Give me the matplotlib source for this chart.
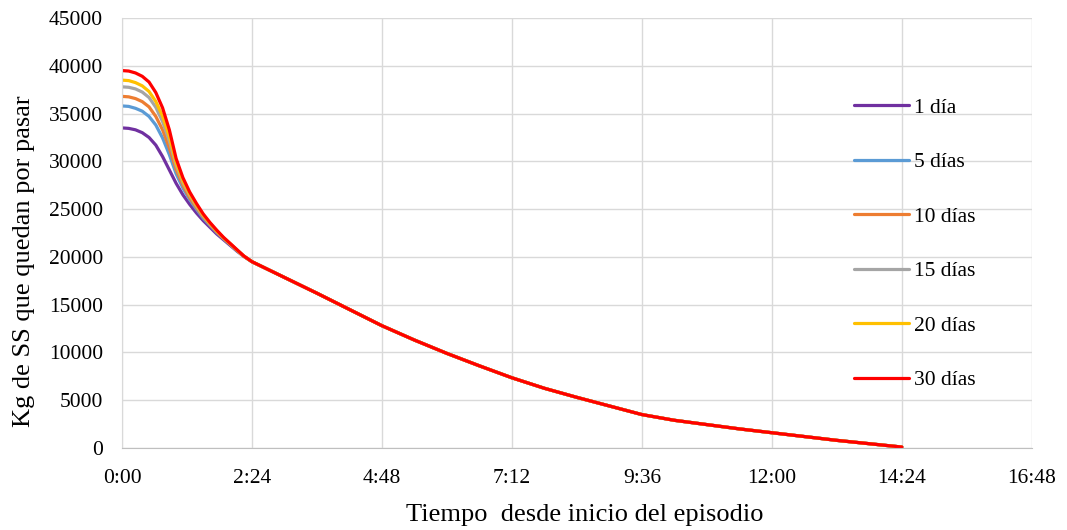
import matplotlib
matplotlib.use("Agg")
import matplotlib.pyplot as plt
from matplotlib.ticker import FuncFormatter

plt.rcParams['font.family'] = ['Liberation Serif', 'DejaVu Serif']

# time in hours since the start of the episode
t_early = [0, 0.125, 0.25, 0.375, 0.5, 0.625, 0.75, 0.875, 1.0, 1.125,
           1.25, 1.375, 1.5, 1.625, 1.75, 1.875, 2.0, 2.125, 2.25]
t_tail = [2.4, 3.0, 3.6, 4.2, 4.8, 5.4, 6.0, 6.6, 7.2, 7.8, 8.4, 9.0, 9.6,
          10.2, 10.8, 11.4, 12.0, 12.6, 13.2, 13.8, 14.4]
# common tail (all series collapse on the same curve after ~2:24)
kg_tail = [19500, 17850, 16200, 14500, 12800, 11300, 9900, 8600, 7350, 6250,
           5300, 4400, 3500, 2900, 2450, 2000, 1600, 1200, 800, 450, 100]

kg_1 = [33500, 33450, 33300, 33000, 32500, 31700, 30500, 29100, 27700, 26500,
        25500, 24600, 23800, 23100, 22400, 21800, 21200, 20600, 20050]
kg_5 = [35800, 35750, 35550, 35250, 34700, 33800, 32450, 30700, 28700, 27200,
        26000, 25000, 24050, 23300, 22550, 21900, 21300, 20660, 20070]
kg_10 = [36800, 36750, 36570, 36250, 35700, 34700, 33300, 31400, 29150, 27500,
         26200, 25150, 24200, 23380, 22620, 21940, 21310, 20680, 20080]
kg_15 = [37800, 37750, 37580, 37250, 36680, 35660, 34170, 32120, 29570, 27800,
         26440, 25320, 24300, 23460, 22690, 21980, 21340, 20710, 20090]
kg_20 = [38500, 38450, 38240, 37900, 37310, 36270, 34730, 32590, 29860, 27990,
         26580, 25430, 24380, 23520, 22730, 22010, 21370, 20720, 20090]
kg_30 = [39500, 39450, 39250, 38900, 38300, 37200, 35600, 33300, 30300, 28300,
         26800, 25600, 24500, 23600, 22800, 22050, 21400, 20750, 20100]

labels = ['1 día', '5 días', '10 días', '15 días', '20 días', '30 días']
colors = ['#7030a0', '#5b9bd5', '#ed7d31', '#a5a5a5', '#ffc000', '#ff0000']
series = [kg_1, kg_5, kg_10, kg_15, kg_20, kg_30]

fig = plt.figure(figsize=(10.67, 5.3), dpi=100)
ax = fig.add_axes([0.1143, 0.1547, 0.8527, 0.8113])

t = t_early + t_tail
for s, lab, c in zip(series, labels, colors):
    ax.plot(t, s + kg_tail, color=c, lw=2.3, label=lab, solid_capstyle='round')

ax.set_xlim(0, 16.8)
ax.set_ylim(0, 45000)
ax.set_xticks([0, 2.4, 4.8, 7.2, 9.6, 12.0, 14.4, 16.8])
ax.set_yticks(range(0, 45001, 5000))


def hm(x, pos):
    h = int(x)
    m = int(round((x - h) * 60))
    return '%d:%02d' % (h, m)


ax.xaxis.set_major_formatter(FuncFormatter(hm))
ax.grid(True, color='#d9d9d9', lw=1)
ax.set_axisbelow(True)
for sp in ['top', 'right']:
    ax.spines[sp].set_visible(False)
ax.spines['left'].set_color('#d9d9d9')
ax.spines['bottom'].set_color('#bfbfbf')
ax.tick_params(length=0, labelsize=15.5)
ax.tick_params(axis='x', pad=15)
ax.tick_params(axis='y', pad=13.5)

ax.set_xlabel('Tiempo  desde inicio del episodio', fontsize=19, va='center')
ax.xaxis.set_label_coords(0.509, -0.156)
ax.set_ylabel('Kg de SS que quedan por pasar', fontsize=19, va='center')
ax.yaxis.set_label_coords(-0.108, 0.435)

leg = ax.legend(loc='upper left', bbox_to_anchor=(0.805, 0.815), frameon=False,
                fontsize=15.5, handlelength=2.56, labelspacing=1.6,
                handletextpad=0.23, borderpad=0, borderaxespad=0)

fig.savefig('out.png', dpi=100)
